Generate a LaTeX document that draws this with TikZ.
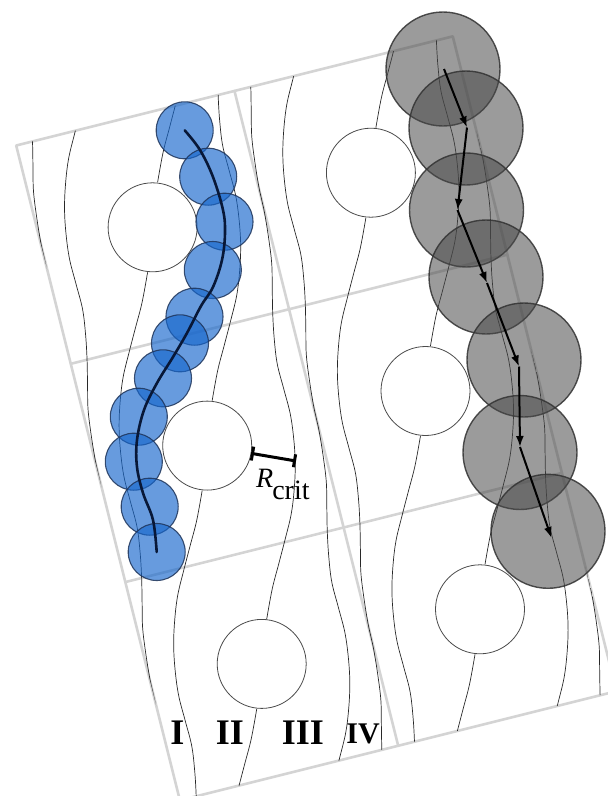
\documentclass[tikz,border=0pt]{standalone}
\usepackage{fontspec}
\setmainfont{Liberation Serif}
\usetikzlibrary{arrows.meta}

\definecolor{gridgray}{RGB}{212,212,212}
\definecolor{flowline}{RGB}{40,40,40}
\definecolor{obsedge}{RGB}{75,75,75}
\definecolor{bluefill}{RGB}{22,102,204}
\definecolor{blueedge}{RGB}{30,52,90}
\definecolor{bluepath}{RGB}{8,24,56}
\definecolor{greyfill}{RGB}{72,72,72}
\definecolor{greyedge}{RGB}{50,50,50}

\tikzset{
  cellgrid/.style={draw=gridgray, line width=2.6pt, line join=round, line cap=round},
  flow/.style={draw=flowline, line width=0.7pt},
  obstacle/.style={circle, draw=obsedge, fill=white, line width=0.8pt, minimum size=89pt, inner sep=0pt, outer sep=0pt},
  smallgrain/.style={circle, draw=blueedge, draw opacity=0.85, fill=bluefill, fill opacity=0.65, line width=1.1pt, minimum size=57pt, inner sep=0pt},
  biggrain/.style={circle, draw=greyedge, draw opacity=0.85, fill=greyfill, fill opacity=0.55, line width=1.4pt, minimum size=114pt, inner sep=0pt},
  smalltrack/.style={draw=bluepath, line width=2.6pt, line cap=round},
  bigtrack/.style={draw=black, line width=2pt, -{Latex[length=11pt,width=8pt]}},
  gapmark/.style={draw=black, line width=3pt, {Bar[width=14pt]}-{Bar[width=13pt]}},
  numeral/.style={inner sep=0pt, font=\fontsize{36}{40}\selectfont\bfseries},
  % dividing streamline: from the rear stagnation point of one obstacle
  % to the front stagnation point of the obstacle four rows further down
  dividing/.pic={
    \draw[flow] plot[smooth, tension=0.6] coordinates {
      (-5,45) (-10.5,75) (-17,100) (-23.5,125) (-29.5,150) (-32.5,175)
      (-33.5,200) (-32,225) (-28.5,250) (-22,275) (-15.5,300) (-12.5,325)
      (-11,350) (-10.5,375) (-10,400) (-7,425) (-3,450) (0,463.85)
      (3,477.7) (7,502.7) (10,527.7) (10.5,552.7) (11,577.7) (12.5,602.7)
      (15.5,627.7) (22,652.7) (28.5,677.7) (32,702.7) (33.5,727.7)
      (32.5,752.7) (29.5,777.7) (23.5,802.7) (17,827.7) (10.5,852.7) (5,882.7)};
  },
}

\begin{document}
\begin{tikzpicture}[x=1pt, y=-1pt]
\useasboundingbox (0,0) rectangle (608,796);
\clip (0,0) rectangle (608,796);

% corners of the tilted 2 x 3 cell grid
\coordinate (G00) at (16.2,145.5);
\coordinate (G10) at (234.48,90.93);
\coordinate (G20) at (452.76,36.36);
\coordinate (G01) at (70.77,363.78);
\coordinate (G21) at (507.33,254.64);
\coordinate (G02) at (125.34,582.06);
\coordinate (G22) at (561.9,472.92);
\coordinate (G03) at (179.91,800.34);
\coordinate (G13) at (398.19,745.77);
\coordinate (G23) at (616.47,691.2);

% cell boundaries
\draw[cellgrid] (G00) -- (G20) -- (G23) -- (G03) -- cycle;
\draw[cellgrid] (G10) -- (G13);
\draw[cellgrid] (G01) -- (G21);
\draw[cellgrid] (G02) -- (G22);

% streamlines, periodic over the obstacle lattice
\begin{scope}
  \clip (G00) -- (G20) -- (G23) -- (G03) -- cycle;
  \foreach \i in {-1,...,3}{
    \foreach \j in {-6,...,3}{
      \pgfmathsetmacro{\cx}{152.6+218.28*\i+54.57*\j}
      \pgfmathsetmacro{\cy}{227.3-54.57*\i+218.28*\j}
      \pic at (\cx,\cy) {dividing};
    }
  }
\end{scope}

% obstacles at the cell centres
\node[obstacle] (w11) at (152.6,227.3) {};
\node[obstacle] (w12) at (207.2,445.6) {};
\node[obstacle] (w13) at (261.7,663.9) {};
\node[obstacle] (w21) at (370.9,172.7) {};
\node[obstacle] (w22) at (425.5,391.0) {};
\node[obstacle] (w23) at (480.0,609.3) {};

% small particle: successive positions
\node[smallgrain] (b1) at (184.7,130.3) {};
\node[smallgrain] (b2) at (208.2,176.7) {};
\node[smallgrain] (b3) at (224.5,221.7) {};
\node[smallgrain] (b4) at (212.8,270.0) {};
\node[smallgrain] (b5) at (194.5,316.7) {};
\node[smallgrain] (b6) at (180.0,343.3) {};
\node[smallgrain] (b7) at (163.0,378.3) {};
\node[smallgrain] (b8) at (138.8,416.7) {};
\node[smallgrain] (b9) at (133.8,461.7) {};
\node[smallgrain] (b10) at (149.7,506.7) {};
\node[smallgrain] (b11) at (156.7,552.0) {};
\draw[smalltrack] plot[smooth, tension=0.6] coordinates {
  (b1.center) (200,150) (213,177) (223,210) (225,233) (222,260) (213,287)
  (201,306) (187,333) (173,357) (157,383) (144,410) (137,440) (137,467)
  (143,493) (153,520) (b11.center)};

% large particle: successive positions
\node[biggrain] (g1) at (443.0,69.0) {};
\node[biggrain] (g2) at (466.0,128.0) {};
\node[biggrain] (g3) at (466.5,210.0) {};
\node[biggrain] (g4) at (486.0,277.0) {};
\node[biggrain] (g5) at (524.0,360.0) {};
\node[biggrain] (g6) at (520.0,452.5) {};
\node[biggrain] (g7) at (548.0,531.3) {};
\coordinate (v1) at (444,69);
\coordinate (v2) at (467,127.5);
\coordinate (v3) at (457.5,210);
\coordinate (v4) at (487,283);
\coordinate (v5) at (519,366.5);
\coordinate (v6) at (520,447);
\coordinate (v7) at (551.5,538);
\draw[bigtrack] (v1) -- (v2);
\draw[bigtrack] (v2) -- (v3);
\draw[bigtrack] (v3) -- (v4);
\draw[bigtrack] (v4) -- (v5);
\draw[bigtrack] (v5) -- (v6);
\draw[bigtrack] (v6) -- (v7);

% critical distance
\coordinate (rc) at (296,461);
\draw[gapmark] (w12.-10) -- (rc);
\node[anchor=base west, inner sep=0pt, font=\fontsize{28}{30}\selectfont] (rlabel) at (256,487)
  {\textit{R}\kern-1pt\raisebox{-12pt}{crit}};

% region labels
\node[numeral] (n1) at (177.5,732.5) {I};
\node[numeral] (n2) at (230,732.5) {II};
\node[numeral] (n3) at (303,732.5) {III};
\node[numeral, font=\fontsize{30}{34}\selectfont\bfseries] (n4) at (363,733.5) {IV};
\end{tikzpicture}
\end{document}
